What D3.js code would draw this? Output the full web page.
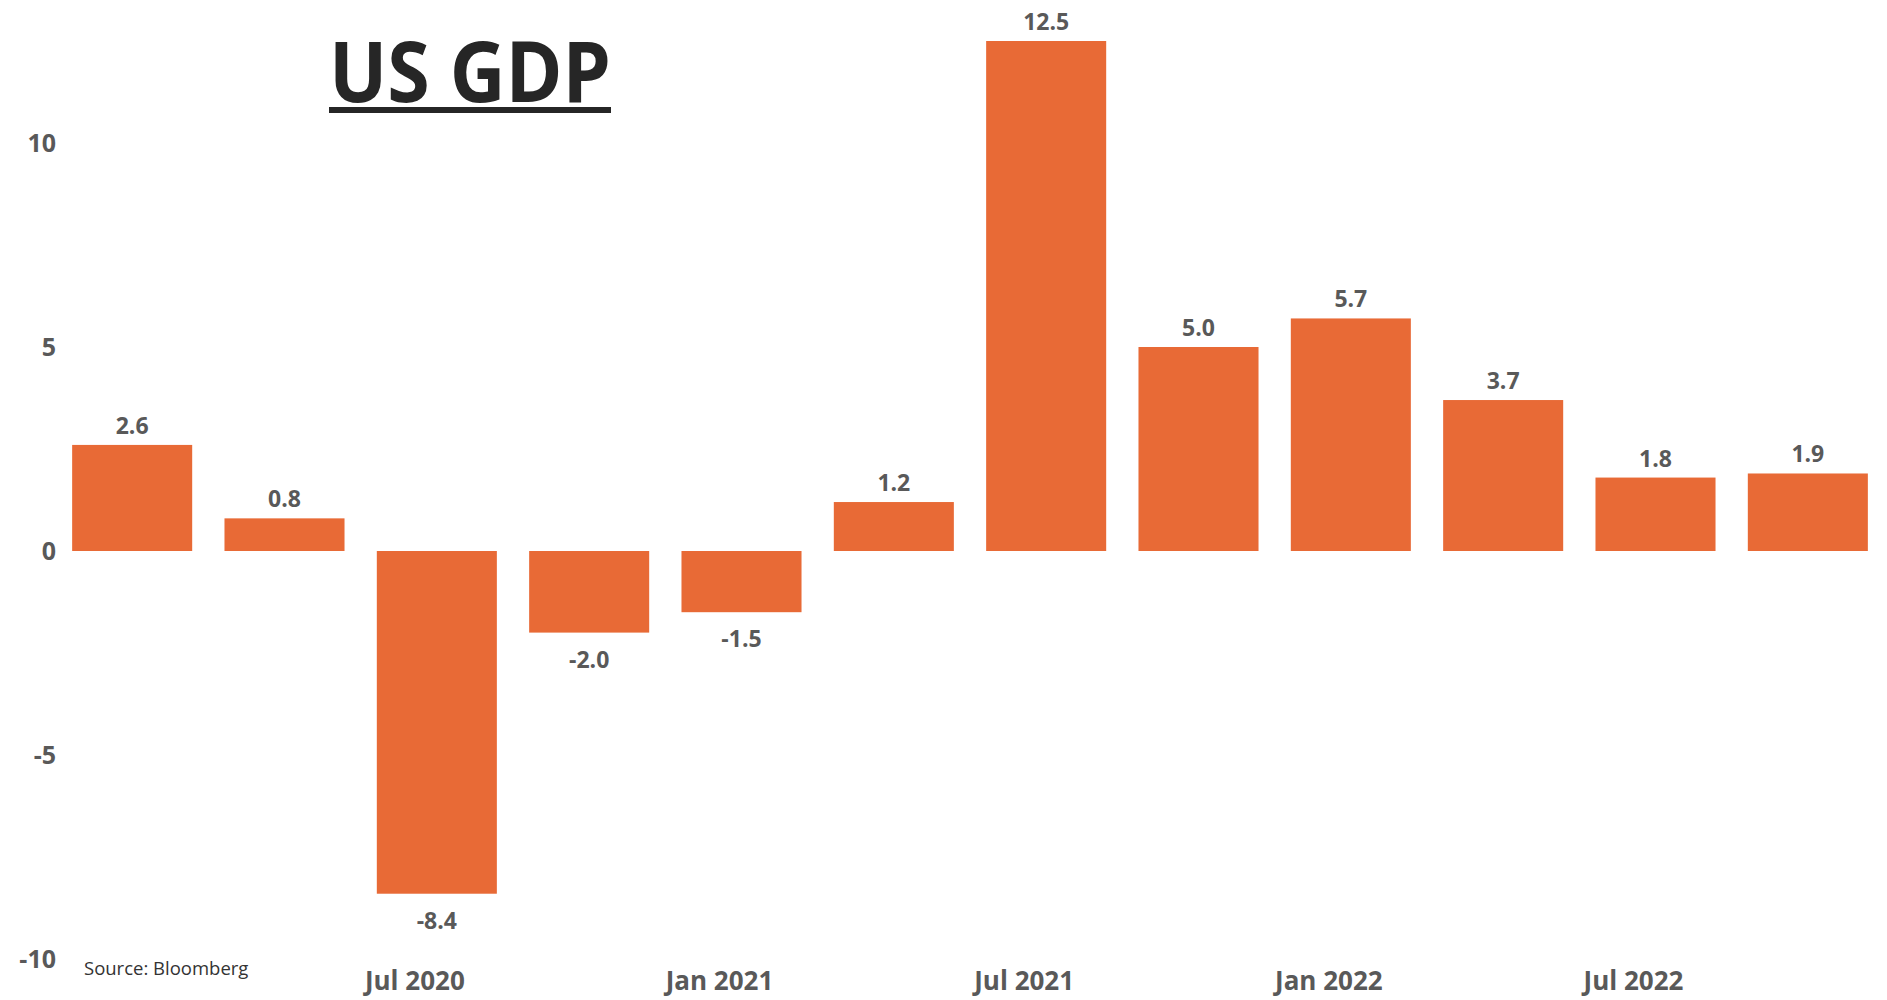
<!DOCTYPE html>
<html>
<head>
<meta charset="utf-8">
<script src="https://cdn.jsdelivr.net/npm/d3@7/dist/d3.min.js"></script>
<style>
  html, body { margin: 0; padding: 0; background: #ffffff; }
  svg { display: block; }
</style>
</head>
<body>
<script>
// ---- data ----
const quarters = ["Q4 2019", "Q1 2020", "Q2 2020", "Q3 2020", "Q4 2020", "Q1 2021",
                  "Q2 2021", "Q3 2021", "Q4 2021", "Q1 2022", "Q2 2022", "Q3 2022"];
const gdpValues = [2.6, 0.8, -8.4, -2.0, -1.5, 1.2, 12.5, 5.0, 5.7, 3.7, 1.8, 1.9];
const yTickValues = [-10, -5, 0, 5, 10];
const xTickQuarters = ["Q2 2020", "Q4 2020", "Q2 2021", "Q4 2021", "Q2 2022"];
const xTickLabels = ["Jul 2020", "Jan 2021", "Jul 2021", "Jan 2022", "Jul 2022"];
const titleText = "US GDP";
const sourceText = "Source: Bloomberg";

// ---- layout ----
const W = 1887, H = 1000;
const svg = d3.select("body").append("svg").attr("width", W).attr("height", H);

const x = d3.scaleBand()
  .domain(quarters)
  .range([56, 1884])
  .paddingInner(0.212)
  .paddingOuter(0.106);

const y = d3.scaleLinear().domain([-10, 10]).range([959, 143]);

const orange = "#E86A36";
const grey = "#595959";

// bars
svg.append("g").selectAll("rect")
  .data(quarters.map((q, i) => ({ q, v: gdpValues[i] })))
  .join("rect")
  .attr("x", d => x(d.q))
  .attr("width", x.bandwidth())
  .attr("y", d => y(Math.max(0, d.v)))
  .attr("height", d => Math.abs(y(d.v) - y(0)))
  .attr("fill", orange);

// value labels
svg.append("g").selectAll("text")
  .data(quarters.map((q, i) => ({ q, v: gdpValues[i] })))
  .join("text")
  .attr("x", d => x(d.q) + x.bandwidth() / 2)
  .attr("y", d => d.v >= 0 ? y(d.v) - 11 : y(d.v) + 35)
  .attr("text-anchor", "middle")
  .attr("font-family", "'Open Sans', sans-serif")
  .attr("font-weight", 700)
  .attr("font-size", 23)
  .attr("fill", grey)
  .text(d => d.v.toFixed(1));

// y axis
const yAxis = d3.axisLeft(y).tickValues(yTickValues).tickSize(0).tickPadding(0)
  .tickFormat(d3.format("d"));
const yg = svg.append("g").attr("transform", "translate(56,0)").call(yAxis);
yg.select(".domain").remove();
yg.selectAll("text")
  .attr("font-family", "'Open Sans', sans-serif")
  .attr("font-weight", 700)
  .attr("font-size", 25)
  .attr("fill", grey)
  .text(d => d < 0 ? "-" + Math.abs(d) : d);

// x axis
const labelMap = new Map(xTickQuarters.map((q, i) => [q, xTickLabels[i]]));
const xAxis = d3.axisBottom(x).tickValues(xTickQuarters).tickSize(0).tickPadding(0)
  .tickFormat(q => labelMap.get(q));
const xg = svg.append("g").attr("transform", "translate(-22,0)").call(xAxis);
xg.select(".domain").remove();
xg.selectAll("text")
  .attr("y", 990)
  .attr("dy", 0)
  .attr("font-family", "'Open Sans', sans-serif")
  .attr("font-weight", 700)
  .attr("font-size", 26)
  .attr("fill", grey);

// title
svg.append("text")
  .attr("x", 470)
  .attr("y", 102)
  .attr("text-anchor", "middle")
  .attr("font-family", "'Open Sans', sans-serif")
  .attr("font-weight", 700)
  .attr("font-size", 84)
  .attr("textLength", 282)
  .attr("lengthAdjust", "spacingAndGlyphs")
  .attr("fill", "#262626")
  .text(titleText);
svg.append("rect")
  .attr("x", 329).attr("y", 107).attr("width", 282).attr("height", 6)
  .attr("fill", "#262626");

// source
svg.append("text")
  .attr("x", 84)
  .attr("y", 975)
  .attr("font-family", "'Open Sans', sans-serif")
  .attr("font-size", 18.5)
  .attr("fill", "#333333")
  .text(sourceText);
</script>
</body>
</html>
